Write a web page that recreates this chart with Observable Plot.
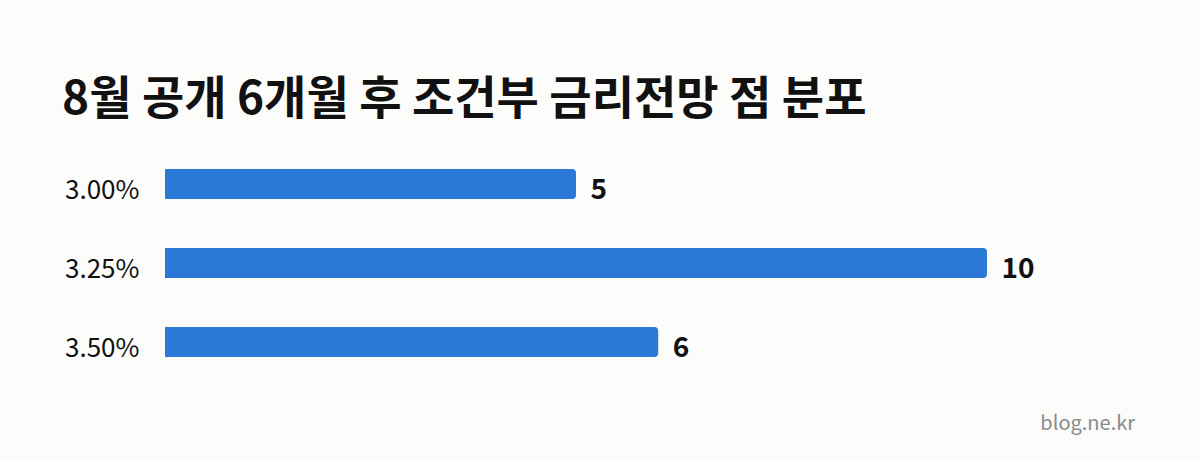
<!DOCTYPE html>
<html>
<head>
<meta charset="utf-8">
<script src="https://cdn.jsdelivr.net/npm/d3@7"></script>
<script src="https://cdn.jsdelivr.net/npm/@observablehq/plot@0.6"></script>
<style>
  html, body { margin: 0; padding: 0; background: #fcfcfa; }
  body { width: 1200px; height: 462px; overflow: hidden; font-family: "Noto Sans CJK KR", "Noto Sans", sans-serif; }
  #title { box-sizing: border-box; height: 130px; padding: 74px 0 0 62px; font-size: 46px; font-weight: 700; line-height: 40px; color: #111; white-space: nowrap; }
  #caption { text-align: right; padding-right: 65px; font-size: 20px; line-height: 24px; color: #8a8a8a; margin-top: 0px; }
  svg { display: block; }
</style>
</head>
<body>
<div id="title">8월 공개 6개월 후 조건부 금리전망 점 분포</div>
<div id="chart"></div>
<div id="caption">blog.ne.kr</div>
<script>
const rates = ["3.00%", "3.25%", "3.50%"];
const counts = [5, 10, 6];
const data = rates.map((r, i) => ({rate: r, count: counts[i]}));

const barColor = "#2a79d6";
const chart = Plot.plot({
  width: 1200,
  height: 280,
  marginLeft: 165,
  marginRight: 213,
  marginTop: 14,
  marginBottom: 27.3,
  style: { background: "transparent", fontFamily: "'Noto Sans CJK KR', 'Noto Sans', sans-serif" },
  x: { domain: [0, 10], axis: null },
  y: { domain: rates, paddingInner: 0.616, paddingOuter: 0.3, label: null },
  marks: [
    Plot.axisY({ tickSize: 0, tickPadding: 26, fontSize: 26, dy: 6, color: "#111", label: null }),
    Plot.barX(data, { x: "count", y: "rate", fill: barColor, rx: 4 }),
    Plot.barX(data, { x: d => d.count / 2, y: "rate", fill: barColor }),
    Plot.text(data, { x: "count", y: "rate", text: d => String(d.count), textAnchor: "start", dx: 14, dy: 6, fontSize: 28, fontWeight: 700, fill: "#111" })
  ]
});
document.getElementById("chart").appendChild(chart);
</script>
</body>
</html>
